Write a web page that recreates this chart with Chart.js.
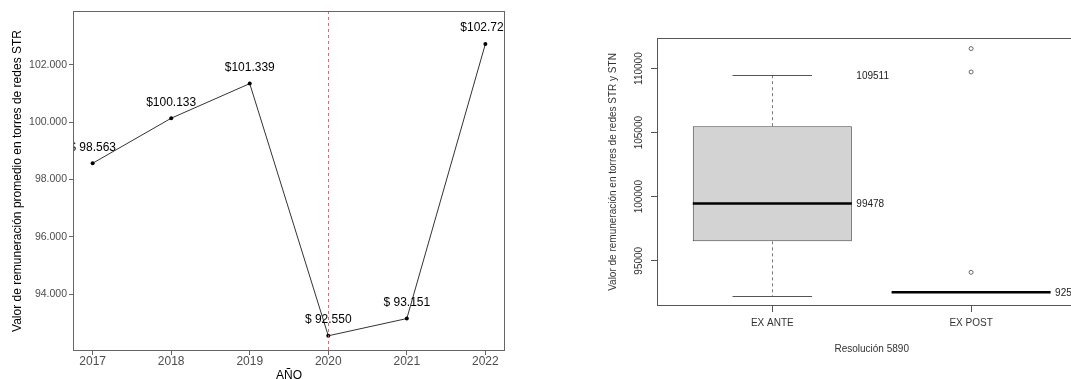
<!DOCTYPE html>
<html lang="es">
<head>
<meta charset="utf-8">
<title>Remuneración torres STR / STN</title>
<script src="https://cdn.jsdelivr.net/npm/chart.js@4"></script>
<style>
  html, body { margin: 0; padding: 0; background: #fff; }
  body { position: relative; width: 1071px; height: 379px; overflow: hidden; }
  #graficoSerie { position: absolute; left: 0; top: 0; }
  #graficoCaja { position: absolute; left: 535px; top: 0; }
</style>
</head>
<body>
<canvas id="graficoSerie" width="535" height="390"></canvas>
<canvas id="graficoCaja" width="560" height="379"></canvas>
<script>
// GRAFICO 1 : valor promedio por año (torres STR)
let anios = [2017, 2018, 2019, 2020, 2021, 2022];
let valores = [98563, 100133, 101339, 92550, 93151, 102720];
let ticksSerie = [94000, 96000, 98000, 100000, 102000];
let anioResolucion = 2020;

// GRAFICO 2 : cajas ex ante / ex post (Resolución 5890)
let grupos = ['EX ANTE', 'EX POST'];
let bigoteInf = [92249, 92550];
let cuartil1 = [96513, 92550];
let mediana = [99478, 92550];
let cuartil3 = [105502, 92550];
let bigoteSup = [109511, 92550];
let atipicos = [[], [111559, 109735, 94096]];
let ticksCaja = [95000, 100000, 105000, 110000];

const fuente = '"Liberation Sans", Arial, sans-serif';
Chart.defaults.font.family = fuente;

// 98563 -> "98.563"
function miles(v) {
  return String(v).replace(/\B(?=(\d{3})+(?!\d))/g, '.');
}
// "$ 98.563", "$100.133" (mismo ancho para todos)
function etiqueta(v) {
  return '$' + miles(v).padStart(7, ' ');
}

function linea(ctx, x1, y1, x2, y2) {
  ctx.beginPath();
  ctx.moveTo(x1, y1);
  ctx.lineTo(x2, y2);
  ctx.stroke();
}

function marco(chart, color) {
  const a = chart.chartArea;
  const ctx = chart.ctx;
  ctx.save();
  ctx.strokeStyle = color;
  ctx.lineWidth = 1;
  const l = Math.round(a.left) + 0.5, t = Math.round(a.top) + 0.5;
  const r = Math.round(a.right) - 0.5, b = Math.round(a.bottom) - 0.5;
  ctx.strokeRect(l, t, r - l, b - t);
  ctx.restore();
}

// Linea punteada de la resolución + etiquetas de valor
const marcasSerie = {
  id: 'marcasSerie',
  afterDatasetsDraw(chart) {
    const { ctx, chartArea: a, scales: { x, y } } = chart;
    ctx.save();
    ctx.strokeStyle = 'rgba(240, 70, 70, 0.85)';
    ctx.lineWidth = 1;
    ctx.setLineDash([3, 3]);
    const xr = Math.round(x.getPixelForValue(anioResolucion)) + 0.5;
    linea(ctx, xr, a.top, xr, a.bottom);
    ctx.setLineDash([]);

    ctx.beginPath();
    ctx.rect(a.left, a.top, a.right - a.left, a.bottom - a.top);
    ctx.clip();
    ctx.font = '12px ' + fuente;
    ctx.fillStyle = '#000';
    ctx.textAlign = 'center';
    ctx.textBaseline = 'middle';
    anios.forEach((an, i) => {
      ctx.fillText(etiqueta(valores[i]), x.getPixelForValue(an), y.getPixelForValue(valores[i]) - 16);
    });
    ctx.restore();
  },
  afterDraw(chart) {
    marco(chart, '#666');
  }
};

new Chart(document.getElementById('graficoSerie'), {
  type: 'line',
  data: {
    datasets: [{
      data: anios.map((an, i) => ({ x: an, y: valores[i] })),
      borderColor: '#333',
      borderWidth: 1,
      pointRadius: 2,
      pointBackgroundColor: '#000',
      pointBorderWidth: 0,
      tension: 0
    }]
  },
  options: {
    responsive: false,
    animation: false,
    devicePixelRatio: 1,
    events: [],
    layout: { padding: { top: 11, right: 30, left: 0, bottom: 0 } },
    plugins: { legend: { display: false }, tooltip: { enabled: false } },
    scales: {
      x: {
        type: 'linear',
        min: 2016.75,
        max: 2022.25,
        afterBuildTicks: s => { s.ticks = anios.map(v => ({ value: v })); },
        afterFit: s => { s.height = 39; },
        border: { display: false },
        grid: { drawOnChartArea: false, drawTicks: true, tickLength: 4, color: '#666' },
        ticks: { color: '#4d4d4d', font: { size: 12 }, padding: -1, autoSkip: false, maxRotation: 0, callback: v => String(v) },
        title: { display: true, text: 'AÑO', color: '#000', font: { size: 12 }, padding: { top: 0, bottom: 7 } }
      },
      y: {
        min: 92020,
        max: 103870,
        afterBuildTicks: s => { s.ticks = ticksSerie.map(v => ({ value: v })); },
        afterFit: s => { s.width = 73; },
        border: { display: false },
        grid: { drawOnChartArea: false, drawTicks: true, tickLength: 4, color: '#666' },
        ticks: { color: '#4d4d4d', font: { size: 10.5 }, padding: 2, callback: v => miles(v) },
        title: { display: true, text: 'Valor de remuneración promedio en torres de redes STR', color: '#000', font: { size: 12 }, padding: { top: 10, bottom: 0 } }
      }
    }
  },
  plugins: [marcasSerie]
});

// Bigotes, medianas, rotulos y etiquetas verticales del eje y
const marcasCaja = {
  id: 'marcasCaja',
  afterDatasetsDraw(chart) {
    const { ctx, scales: { x, y } } = chart;
    ctx.save();
    grupos.forEach((g, i) => {
      const c = Math.round(x.getPixelForValue(i + 1)) + 0.5;
      const yQ1 = y.getPixelForValue(cuartil1[i]);
      const yQ3 = y.getPixelForValue(cuartil3[i]);
      const yInf = Math.round(y.getPixelForValue(bigoteInf[i])) + 0.5;
      const ySup = Math.round(y.getPixelForValue(bigoteSup[i])) + 0.5;

      ctx.lineWidth = 1;
      ctx.strokeStyle = '#777';
      ctx.setLineDash([3, 3]);
      linea(ctx, c, yQ3, c, ySup);
      linea(ctx, c, yQ1, c, yInf);
      ctx.setLineDash([]);

      ctx.strokeStyle = '#555';
      linea(ctx, x.getPixelForValue(i + 0.8), ySup, x.getPixelForValue(i + 1.2), ySup);
      linea(ctx, x.getPixelForValue(i + 0.8), yInf, x.getPixelForValue(i + 1.2), yInf);

      ctx.strokeStyle = '#000';
      ctx.lineWidth = 2.5;
      const yMed = y.getPixelForValue(mediana[i]);
      linea(ctx, x.getPixelForValue(i + 0.6), yMed, x.getPixelForValue(i + 1.4), yMed);
    });

    // valores escritos a la derecha de cada caja
    const rotulos = [[bigoteSup[0], mediana[0]], [mediana[1]]];
    ctx.font = '10px ' + fuente;
    ctx.fillStyle = '#222';
    ctx.textAlign = 'left';
    ctx.textBaseline = 'middle';
    rotulos.forEach((lista, i) => {
      lista.forEach(v => {
        ctx.fillText(String(v), x.getPixelForValue(i + 1.4) + 4.5, y.getPixelForValue(v) + 1);
      });
    });
    ctx.restore();
  },
  afterDraw(chart) {
    marco(chart, '#555');
    const { ctx, scales: { y } } = chart;
    ctx.save();
    ctx.font = '10px ' + fuente;
    ctx.fillStyle = '#333';
    ctx.textAlign = 'center';
    ctx.textBaseline = 'middle';
    ticksCaja.forEach(v => {
      ctx.save();
      ctx.translate(104.3, y.getPixelForValue(v));
      ctx.rotate(-Math.PI / 2);
      ctx.fillText(String(v), 0, 0);
      ctx.restore();
    });
    ctx.restore();
  }
};

new Chart(document.getElementById('graficoCaja'), {
  type: 'scatter',
  data: {
    datasets: [{
      type: 'bar',
      data: grupos.map((g, i) => ({ x: i + 1, y: [cuartil1[i], cuartil3[i]] })),
      backgroundColor: '#d3d3d3',
      borderColor: '#444',
      borderWidth: 1,
      borderSkipped: false,
      barPercentage: 0.8,
      categoryPercentage: 1
    }, {
      type: 'scatter',
      data: atipicos.flatMap((lista, i) => lista.map(v => ({ x: i + 1, y: v }))),
      pointRadius: 2,
      pointBackgroundColor: '#fff',
      pointBorderColor: '#444',
      pointBorderWidth: 0.8
    }]
  },
  options: {
    responsive: false,
    animation: false,
    devicePixelRatio: 1,
    events: [],
    layout: { padding: { top: 38, right: 8.6, left: 0, bottom: 0 } },
    plugins: { legend: { display: false }, tooltip: { enabled: false } },
    scales: {
      x: {
        type: 'linear',
        offset: false,
        min: 0.42,
        max: 2.58,
        afterBuildTicks: s => { s.ticks = grupos.map((g, i) => ({ value: i + 1 })); },
        afterFit: s => { s.height = 73; },
        border: { display: false },
        grid: { offset: false, drawOnChartArea: false, drawTicks: true, tickLength: 6, color: '#555' },
        ticks: { color: '#333', font: { size: 10 }, padding: 5, autoSkip: false, maxRotation: 0, callback: v => grupos[v - 1] },
        title: { display: true, text: 'Resolución 5890', color: '#333', font: { size: 10 }, padding: { top: 0, bottom: 24 } }
      },
      y: {
        min: 91468,
        max: 112386,
        afterBuildTicks: s => { s.ticks = ticksCaja.map(v => ({ value: v })); },
        afterFit: s => { s.width = 122; },
        border: { display: false },
        grid: { drawOnChartArea: false, drawTicks: true, tickLength: 6, color: '#555' },
        ticks: { display: false },
        title: { display: true, text: 'Valor de remuneración en torres de redes STR y STN', color: '#333', font: { size: 10 }, padding: { top: 72, bottom: 0 } }
      }
    }
  },
  plugins: [marcasCaja]
});
</script>
</body>
</html>
